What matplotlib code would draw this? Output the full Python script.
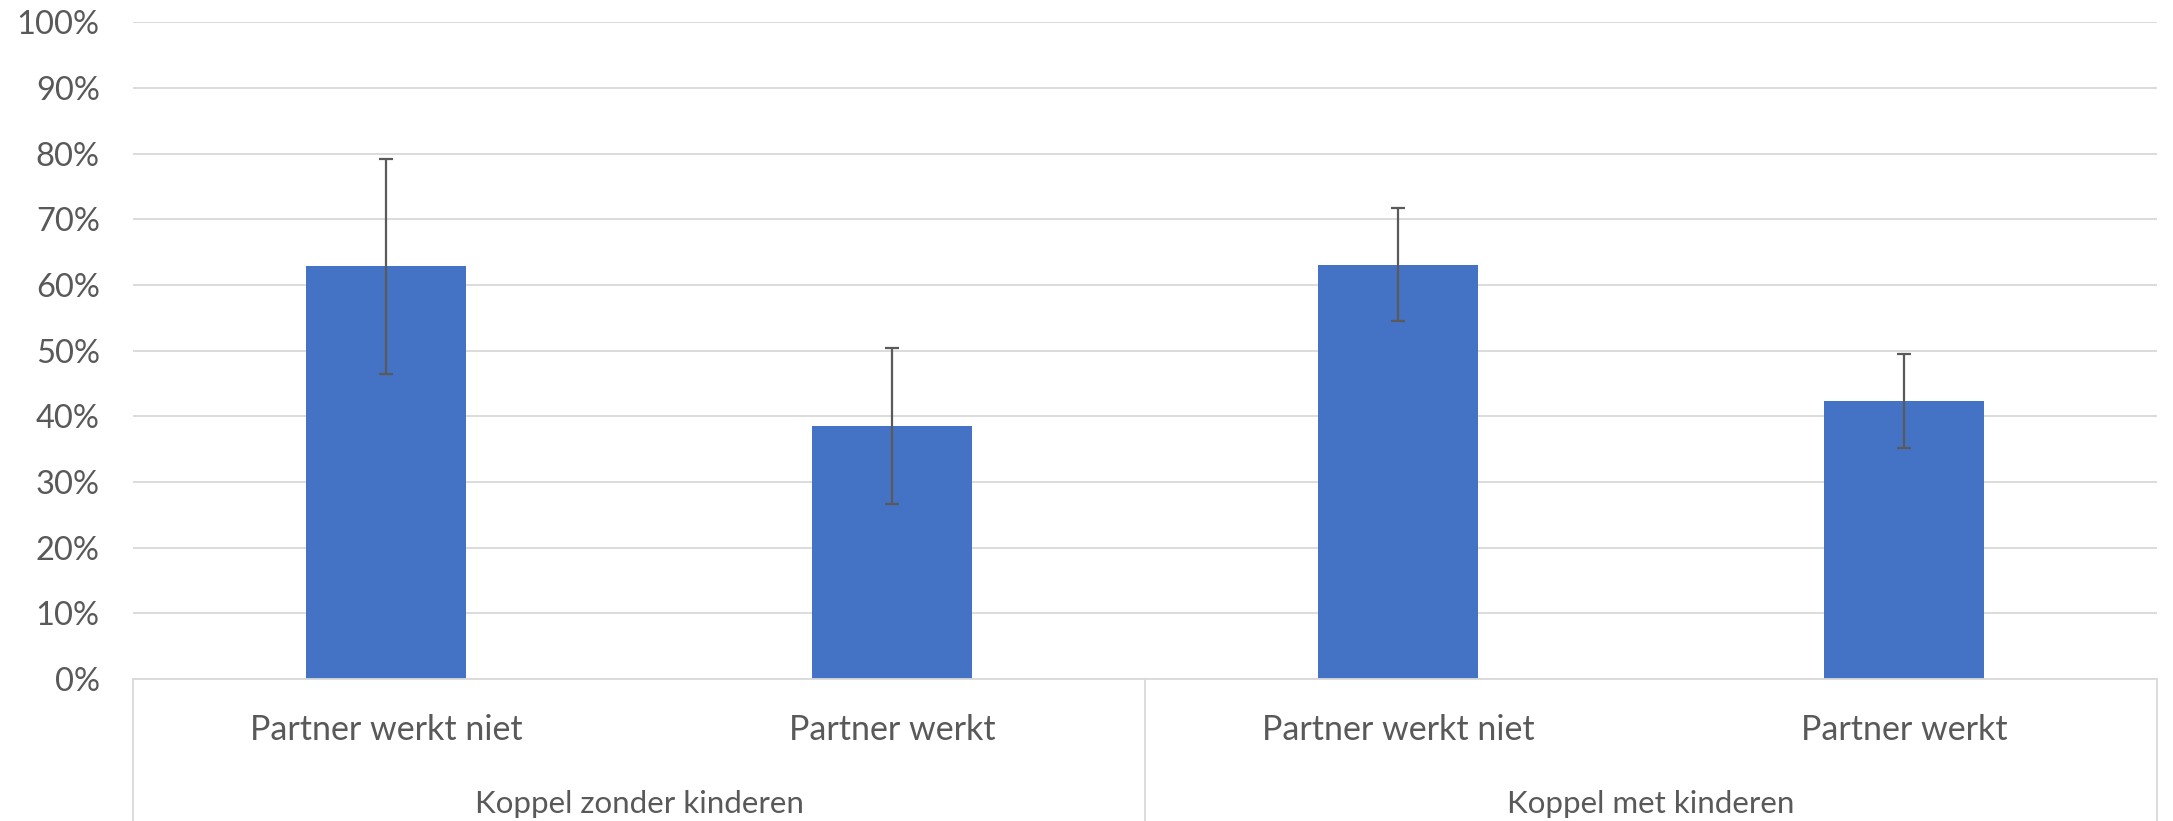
import matplotlib.pyplot as plt
import matplotlib.transforms as mtransforms
from matplotlib.ticker import PercentFormatter

# data
groups = ["Koppel zonder kinderen", "Koppel met kinderen"]
categories = ["Partner werkt niet", "Partner werkt",
              "Partner werkt niet", "Partner werkt"]
values = [62.8, 38.5, 63.1, 42.3]
errors = [16.3, 11.9, 8.6, 7.2]

BAR_COLOR = "#4472C4"
TEXT_COLOR = "#595959"
GRID_COLOR = "#D9D9D9"
FONT_SIZE = 24

plt.rcParams["font.family"] = ["Lato", "DejaVu Sans"]

fig = plt.figure(figsize=(21.73, 8.21), dpi=100)
ax = fig.add_axes([0.0612, 0.173, 0.9314, 0.80])

x = [i + 0.5 for i in range(len(values))]
ax.bar(x, values, width=0.315, color=BAR_COLOR, zorder=2)
ax.errorbar(x, values, yerr=errors, fmt="none", ecolor="#5A5A5A",
            elinewidth=1.6, capsize=4.7, capthick=1.6, zorder=3)

ax.set_xlim(0, len(values))
ax.set_ylim(0, 100)
ax.set_yticks(range(0, 101, 10))
ax.yaxis.set_major_formatter(PercentFormatter(decimals=0))
ax.tick_params(axis="y", length=0, pad=24, labelsize=FONT_SIZE - 0.5,
               labelcolor=TEXT_COLOR)
ax.set_xticks([])
ax.grid(axis="y", color=GRID_COLOR, linewidth=1.3, zorder=0)
for side in ["top", "right", "left"]:
    ax.spines[side].set_visible(False)
ax.spines["bottom"].set_color(GRID_COLOR)
ax.spines["bottom"].set_linewidth(1.3)

# two-level category axis
trans = mtransforms.blended_transform_factory(ax.transData, ax.transAxes)
for xi, label in zip(x, categories):
    ax.text(xi, -0.078, label, transform=trans, ha="center", va="center",
            fontsize=FONT_SIZE + 0.5, color=TEXT_COLOR)
for gi, label in enumerate(groups):
    ax.text(2 * gi + 1, -0.19, label, transform=trans, ha="center",
            va="center", fontsize=FONT_SIZE - 1.5, color=TEXT_COLOR)
for sep in [0, 2, 4]:
    ax.plot([sep, sep], [0, -0.3], transform=trans, color=GRID_COLOR,
            linewidth=1.3, clip_on=False)

fig.savefig("out.png", dpi=100)
